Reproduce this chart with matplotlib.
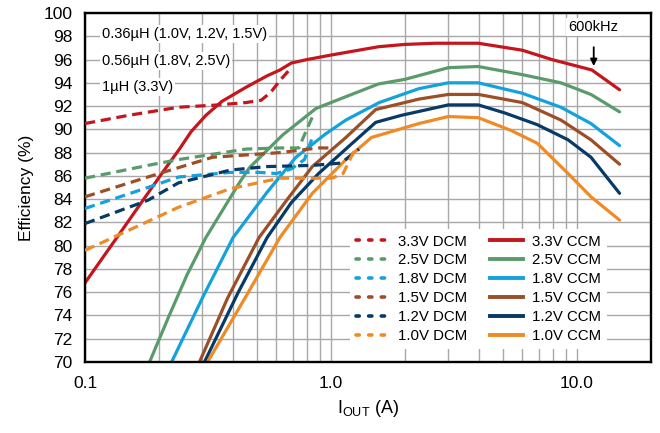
import matplotlib
matplotlib.use("Agg")
import matplotlib.pyplot as plt
from matplotlib.lines import Line2D
from matplotlib.ticker import FixedLocator, NullFormatter

plt.rcParams['font.family'] = ['Liberation Sans', 'DejaVu Sans']
plt.rcParams['mathtext.fontset'] = 'custom'
plt.rcParams['mathtext.rm'] = 'Liberation Sans'

# CCM curves (solid)
i_33_ccm = [0.1, 0.139, 0.172, 0.21, 0.242, 0.27, 0.31, 0.36, 0.45, 0.55, 0.62, 0.69, 0.8, 1.01, 1.56, 2.0, 2.66, 3.97, 6.0, 7.9, 11.5, 14.9]
e_33_ccm = [76.8, 81.1, 83.9, 86.5, 88.3, 89.8, 91.2, 92.4, 93.6, 94.6, 95.1, 95.7, 96.0, 96.4, 97.1, 97.3, 97.4, 97.4, 96.8, 96.0, 95.1, 93.4]
i_25_ccm = [0.183, 0.22, 0.26, 0.31, 0.424, 0.466, 0.635, 0.79, 0.87, 1.18, 1.56, 2.0, 3.0, 3.97, 6.0, 8.6, 11.4, 14.9]
e_25_ccm = [70.0, 74.0, 77.5, 80.7, 85.4, 86.7, 89.5, 91.1, 91.8, 92.9, 93.9, 94.3, 95.3, 95.4, 94.7, 94.0, 93.0, 91.5]
i_18_ccm = [0.225, 0.3, 0.4, 0.55, 0.72, 0.95, 1.15, 1.57, 2.28, 3.0, 3.97, 6.0, 8.6, 11.4, 14.9]
e_18_ccm = [70.0, 75.5, 80.7, 84.6, 87.6, 89.6, 90.8, 92.3, 93.5, 94.0, 94.0, 93.1, 91.9, 90.5, 88.6]
i_15_ccm = [0.292, 0.38, 0.51, 0.66, 0.84, 1.15, 1.52, 2.28, 3.0, 3.97, 6.0, 8.6, 11.4, 14.9]
e_15_ccm = [70.0, 75.5, 80.7, 83.9, 86.8, 89.3, 91.7, 92.6, 93.0, 93.0, 92.3, 90.8, 89.1, 87.0]
i_12_ccm = [0.306, 0.42, 0.55, 0.69, 0.89, 1.22, 1.52, 1.93, 3.0, 3.97, 5.1, 6.9, 9.2, 11.4, 14.9]
e_12_ccm = [70.0, 76.0, 80.7, 83.7, 86.2, 88.8, 90.6, 91.2, 92.1, 92.1, 91.4, 90.4, 89.1, 87.6, 84.5]
i_10_ccm = [0.315, 0.45, 0.62, 0.84, 1.15, 1.46, 2.28, 3.0, 3.97, 5.4, 6.9, 9.2, 11.4, 14.9]
e_10_ccm = [70.0, 75.6, 80.7, 84.5, 87.4, 89.3, 90.5, 91.1, 91.0, 89.9, 88.8, 86.2, 84.2, 82.2]

# DCM curves (dashed)
i_33_dcm = [0.1, 0.15, 0.24, 0.35, 0.45, 0.52, 0.57, 0.62, 0.69]
e_33_dcm = [90.5, 91.2, 91.9, 92.1, 92.3, 92.5, 93.2, 94.2, 95.3]
i_25_dcm = [0.1, 0.18, 0.24, 0.45, 0.62, 0.74, 0.79, 0.85]
e_25_dcm = [85.8, 86.9, 87.4, 88.3, 88.4, 88.4, 89.8, 91.3]
i_18_dcm = [0.1, 0.18, 0.24, 0.39, 0.51, 0.6, 0.69, 0.78, 0.84]
e_18_dcm = [83.2, 85.0, 85.9, 86.3, 86.3, 86.2, 86.6, 87.4, 89.3]
i_15_dcm = [0.1, 0.18, 0.33, 0.62, 0.89, 0.98]
e_15_dcm = [84.2, 85.9, 87.6, 88.0, 88.4, 88.4]
i_12_dcm = [0.1, 0.18, 0.24, 0.39, 0.55, 0.84, 1.1, 1.3]
e_12_dcm = [81.9, 83.9, 85.4, 86.5, 86.8, 86.9, 87.1, 88.3]
i_10_dcm = [0.1, 0.13, 0.24, 0.39, 0.62, 1.01, 1.12, 1.2, 1.27]
e_10_dcm = [79.6, 80.7, 83.3, 84.9, 85.8, 85.8, 86.2, 87.5, 88.5]

colors = {'3.3V': '#C4161C', '2.5V': '#5A9B6C', '1.8V': '#13A2DC',
          '1.5V': '#9C4F27', '1.2V': '#073A66', '1.0V': '#F08A24'}

dcm = [('3.3V', i_33_dcm, e_33_dcm), ('2.5V', i_25_dcm, e_25_dcm), ('1.8V', i_18_dcm, e_18_dcm),
       ('1.5V', i_15_dcm, e_15_dcm), ('1.2V', i_12_dcm, e_12_dcm), ('1.0V', i_10_dcm, e_10_dcm)]
ccm = [('3.3V', i_33_ccm, e_33_ccm), ('2.5V', i_25_ccm, e_25_ccm), ('1.8V', i_18_ccm, e_18_ccm),
       ('1.5V', i_15_ccm, e_15_ccm), ('1.2V', i_12_ccm, e_12_ccm), ('1.0V', i_10_ccm, e_10_ccm)]

fig = plt.figure(figsize=(6.6, 4.33), dpi=100)
ax = fig.add_axes([85/660, 1-362/433, (651-85)/660, (362-13)/433])

handles = []
for name, x, y in dcm:
    ax.plot(x, y, color=colors[name], lw=2.3, dashes=(3.2, 1.8), zorder=3)
    handles.append(Line2D([], [], color=colors[name], lw=2.6, dashes=(0.9, 2.6),
                          dash_capstyle='round', label=name + ' DCM'))
for name, x, y in ccm:
    ax.plot(x, y, color=colors[name], lw=2.3, solid_capstyle='round', zorder=2.5)
    handles.append(Line2D([], [], color=colors[name], lw=2.8, label=name + ' CCM'))

ax.set_xscale('log')
ax.set_xlim(0.1, 20)
ax.set_ylim(70, 100)
ax.set_yticks(range(70, 101, 2))
ax.xaxis.set_major_locator(FixedLocator([0.1, 1.0, 10.0]))
ax.set_xticklabels(['0.1', '1.0', '10.0'])
ax.xaxis.set_minor_locator(FixedLocator([k * m for m in (0.1, 1, 10) for k in range(2, 10)]))
ax.xaxis.set_minor_formatter(NullFormatter())
ax.grid(True, which='both', color='#a8a8a8', lw=1.0)
ax.tick_params(which='both', length=0, labelsize=12.5)
ax.tick_params(axis='x', pad=10)
ax.tick_params(axis='y', pad=9)
for s in ax.spines.values():
    s.set_linewidth(1.7)

ax.set_xlabel(r'I$_{\rm OUT}$ (A)', fontsize=13, labelpad=5)
ax.set_ylabel('Efficiency (%)', fontsize=12.5, labelpad=7)

box = dict(facecolor='white', edgecolor='none', pad=1.5)
ax.text(0.117, 98.2, '0.36µH (1.0V, 1.2V, 1.5V)', fontsize=10.5, va='center', bbox=box)
ax.text(0.117, 95.9, '0.56µH (1.8V, 2.5V)', fontsize=10.5, va='center', bbox=box)
ax.text(0.117, 93.6, '1µH (3.3V)', fontsize=10.5, va='center', bbox=box)
ax.text(11.6, 98.8, '600kHz', fontsize=10.5, ha='center', va='center', bbox=box)
ax.annotate('', xy=(11.7, 95.2), xytext=(11.7, 97.3),
            arrowprops=dict(arrowstyle='-|>', color='black', lw=1.3, mutation_scale=10))

leg = ax.legend(handles=handles, ncol=2, loc='lower left', bbox_to_anchor=(0.455, 0.015),
                fontsize=10.8, frameon=True, fancybox=False, edgecolor='none', framealpha=1,
                handlelength=2.2, handletextpad=0.6, columnspacing=1.5, labelspacing=0.33,
                borderpad=0.4)
leg.set_zorder(5)

fig.savefig('out.png', dpi=100)
